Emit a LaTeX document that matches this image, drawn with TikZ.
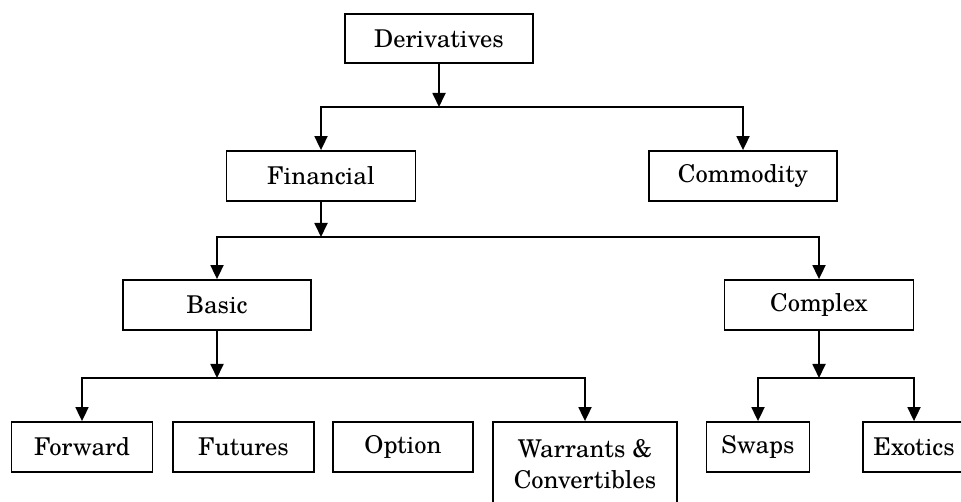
\documentclass[tikz,border=0pt]{standalone}
\usepackage{fontspec}
\setmainfont{TeX Gyre Schola}
\usetikzlibrary{arrows.meta}
\begin{document}
\begin{tikzpicture}[x=1pt,y=-1pt,
  box/.style={draw, line width=1.8pt, inner sep=0pt, font=\fontsize{24.5}{31}\selectfont, align=center},
  arr/.style={line width=1.8pt, -{Triangle[width=13pt,length=14pt]}}]
\useasboundingbox (0,0) rectangle (961,502);
\clip (0,0) rectangle (961,502);
\node[box, minimum width=188pt, minimum height=49pt] (der) at (439,38.5) {Derivatives};
\node[box, minimum width=189pt, minimum height=50pt] (fin) at (321,176) {Financial};
\node[box, minimum width=188pt, minimum height=50pt] (com) at (743,176) {Commodity};
\node[box, minimum width=188pt, minimum height=50pt] (bas) at (217,305) {Basic};
\node[box, minimum width=189pt, minimum height=50pt] (cpx) at (819,305) {Complex};
\node[box, minimum width=141pt, minimum height=50pt] (fwd) at (82,447) {Forward};
\node[box, minimum width=141pt, minimum height=50pt] (fut) at (243.5,447) {Futures};
\node[box, minimum width=140pt, minimum height=50pt] (opt) at (403,447) {Option};
\node[box, minimum width=184pt, minimum height=84pt] (war) at (585,464) {Warrants \&\\Convertibles};
\node[box, minimum width=103pt, minimum height=50pt] (swp) at (758,447) {Swaps};
\node[box, minimum width=102pt, minimum height=50pt] (exo) at (914,447) {Exotics};
\coordinate (j1) at (der.south |- 0,107);
\coordinate (j2) at (fin.south |- 0,237);
\coordinate (j3) at (bas.south |- 0,378);
\coordinate (j4) at (cpx.south |- 0,378);
\draw[arr] (der.south) -- (j1);
\draw[arr] (j1) -| (fin.north);
\draw[arr] (j1) -| (com.north);
\draw[arr] (fin.south) -- (j2);
\draw[arr] (j2) -| (bas.north);
\draw[arr] (j2) -| (cpx.north);
\draw[arr] (bas.south) -- (j3);
\draw[arr] (j3) -| (fwd.north);
\draw[arr] (j3) -| (war.north);
\draw[arr] (cpx.south) -- (j4);
\draw[arr] (j4) -| (swp.north);
\draw[arr] (j4) -| (exo.north);
\end{tikzpicture}
\end{document}
